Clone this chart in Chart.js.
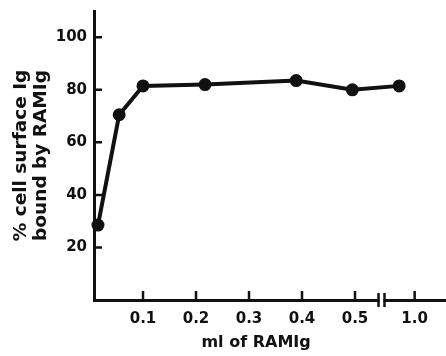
<!DOCTYPE html>
<html lang="en">
<head>
<meta charset="UTF-8" />
<title>Cell surface Ig bound by RAMIg</title>
<script src="https://cdn.jsdelivr.net/npm/chart.js"></script>
<style>
  html, body { margin:0; padding:0; background:#fff; }
  .wrap { width:446px; height:356px; position:relative; }
</style>
</head>
<body>
<div class="wrap"><canvas id="c"></canvas></div>
<script>
// --------- data ---------
const xValues = [0.015, 0.055, 0.1, 0.217, 0.389, 0.495, 0.79];   // ml of RAMIg
const yValues = [28.5, 70.5, 81.5, 82, 83.5, 80, 81.5];           // % bound
const xTickValues = [0.1, 0.2, 0.3, 0.4, 0.5, 1.0];
const xTickLabels = ['0.1', '0.2', '0.3', '0.4', '0.5', '1.0'];
const yTickValues = [20, 40, 60, 80, 100];

// broken x axis: everything past the break is squeezed
const BREAK = 0.55, SQUEEZE = 0.139;
const pos = v => v <= BREAK ? v : BREAK + (v - BREAK) * SQUEEZE;

const INK = '#111';
const FONT = '"DejaVu Sans", sans-serif';

// inward tick marks + axis break
const axisDeco = {
  id: 'axisDeco',
  afterDraw(chart) {
    const {ctx, scales: {x, y}, chartArea: a} = chart;
    ctx.save();
    ctx.strokeStyle = INK;
    ctx.lineWidth = 2.5;
    ctx.beginPath();
    xTickValues.forEach(v => {
      const px = x.getPixelForValue(pos(v));
      ctx.moveTo(px, a.bottom); ctx.lineTo(px, a.bottom - 9);
    });
    yTickValues.forEach(v => {
      const py = y.getPixelForValue(v);
      ctx.moveTo(a.left, py); ctx.lineTo(a.left + 8, py);
    });
    ctx.stroke();
    // break marks
    const bx = x.getPixelForValue(BREAK);
    ctx.fillStyle = '#fff';
    ctx.fillRect(bx - 2, a.bottom - 3, 4, 6);
    ctx.beginPath();
    ctx.moveTo(bx - 3, a.bottom - 7); ctx.lineTo(bx - 3, a.bottom + 7);
    ctx.moveTo(bx + 3, a.bottom - 7); ctx.lineTo(bx + 3, a.bottom + 7);
    ctx.stroke();
    ctx.restore();
  }
};

new Chart(document.getElementById('c'), {
  type: 'scatter',
  data: {
    datasets: [{
      data: xValues.map((v, i) => ({x: pos(v), y: yValues[i]})),
      showLine: true,
      borderColor: INK,
      backgroundColor: INK,
      borderWidth: 4,
      pointRadius: 4.5,
      pointHoverRadius: 4.5,
      clip: false
    }]
  },
  options: {
    responsive: true,
    maintainAspectRatio: false,
    animation: false,
    layout: {autoPadding: false, padding: {top: 11, right: 0, left: 0, bottom: 0}},
    plugins: {legend: {display: false}, tooltip: {enabled: false}},
    scales: {
      x: {
        type: 'linear',
        min: 0.0075, max: 0.6717,
        afterBuildTicks: s => { s.ticks = xTickValues.map(v => ({value: pos(v)})); },
        afterFit: s => { s.height = 56; s.paddingLeft = 0; s.paddingRight = 0; },
        grid: {display: false, drawTicks: false},
        border: {display: true, color: INK, width: 3},
        ticks: {
          padding: 10,
          color: INK,
          font: {family: FONT, size: 15, weight: 'bold'},
          maxRotation: 0,
          autoSkip: false,
          callback: (val, i) => xTickLabels[i]
        },
        title: {
          display: true,
          // trailing spaces nudge the centred title left, as in the figure
          text: 'ml of RAMIg     ',
          color: INK,
          padding: {top: 4},
          font: {family: FONT, size: 16, weight: 'bold'}
        }
      },
      y: {
        min: 0, max: 110,
        afterBuildTicks: s => { s.ticks = yTickValues.map(v => ({value: v})); },
        afterFit: s => { s.width = 94; s.paddingTop = 0; s.paddingBottom = 0; },
        grid: {display: false, drawTicks: false},
        border: {display: true, color: INK, width: 3},
        ticks: {
          padding: 7,
          color: INK,
          font: {family: FONT, size: 15, weight: 'bold'}
        },
        title: {
          display: true,
          text: ['% cell surface Ig', 'bound by RAMIg'],
          color: INK,
          padding: {top: 11, bottom: 0},
          font: {family: FONT, size: 18.5, weight: 'bold', lineHeight: 1.08}
        }
      }
    }
  },
  plugins: [axisDeco]
});
</script>
</body>
</html>
